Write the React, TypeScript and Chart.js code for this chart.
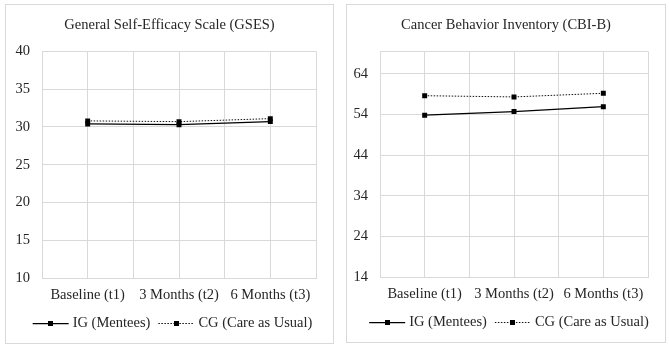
import React, { useEffect, useRef } from "react";
import { Chart, registerables } from "chart.js";

Chart.register(...registerables);

// Measurement occasions and group names shared by both panels
const timepoints = ["Baseline (t1)", "3 Months (t2)", "6 Months (t3)"];
const groupNames = ["IG (Mentees)", "CG (Care as Usual)"];

// General Self-Efficacy Scale
const gsesTitle = "General Self-Efficacy Scale (GSES)";
const gsesIG = [30.4, 30.3, 30.7];
const gsesCG = [30.8, 30.7, 31.1];
const gsesTicks = [10, 15, 20, 25, 30, 35, 40];
const gsesMin = 10;
const gsesMax = 40;

// Cancer Behavior Inventory
const cbiTitle = "Cancer Behavior Inventory (CBI-B)";
const cbiIG = [53.8, 54.7, 55.9];
const cbiCG = [58.6, 58.3, 59.2];
const cbiTicks = [14, 24, 34, 44, 54, 64];
const cbiMin = 14;
const cbiMax = 69.5;

const FONT = '"Liberation Serif", "Times New Roman", serif';
const FONT_SIZE = 14.5;
const TEXT = "#262626";
const GRID = "#d9d9d9";
const RIGHT_GAP = 17;

// Draws the legend below the x axis: a short line sample with a square marker, then the label
const lineLegend = {
  id: "lineLegend",
  afterDraw(chart: any, _args: any, opts: any) {
    const ctx = chart.ctx as CanvasRenderingContext2D;
    ctx.save();
    ctx.font = `${FONT_SIZE}px ${FONT}`;
    const sample = 36;
    const textGap = 4;
    const itemGap = 8;
    const items = chart.data.datasets.map((ds: any) => ({
      label: ds.label as string,
      width: ctx.measureText(ds.label).width,
      dash: ds.borderDash || [],
      lineWidth: ds.borderWidth,
      color: ds.borderColor,
    }));
    const total =
      items.reduce((s: number, it: any) => s + sample + textGap + it.width, 0) +
      itemGap * (items.length - 1);
    let x = chart.width / 2 + (opts.shift || 0) - total / 2;
    const y = Math.round(chart.chartArea.bottom + opts.offset) + 0.5;
    items.forEach((it: any) => {
      ctx.strokeStyle = it.color;
      ctx.lineWidth = it.lineWidth;
      ctx.setLineDash(it.dash);
      ctx.beginPath();
      ctx.moveTo(x, y);
      ctx.lineTo(x + sample, y);
      ctx.stroke();
      ctx.setLineDash([]);
      ctx.fillStyle = "#000";
      ctx.fillRect(Math.round(x + sample / 2 - 2.5), Math.round(y - 3), 5, 5);
      ctx.fillStyle = TEXT;
      ctx.textBaseline = "middle";
      ctx.textAlign = "left";
      ctx.fillText(it.label, x + sample + textGap, y);
      x += sample + textGap + it.width + itemGap;
    });
    ctx.restore();
  },
};

function buildConfig(
  title: string,
  ig: number[],
  cg: number[],
  yTicks: number[],
  yMin: number,
  yMax: number,
  plotLeft: number
): any {
  const n = timepoints.length;
  // vertical grid lines at every category centre and every category boundary
  const xGrid: number[] = [];
  for (let k = 0; k <= 2 * n; k++) xGrid.push(k / 2 - 0.5);
  const yGrid = yTicks.includes(yMax) ? yTicks : [...yTicks, yMax];
  const font = { family: FONT, size: FONT_SIZE };

  const point = {
    pointStyle: "rect",
    pointRadius: 3.5,
    pointBorderWidth: 0,
    pointBackgroundColor: "#000",
    pointBorderColor: "#000",
  };

  return {
    type: "line",
    data: {
      datasets: [
        {
          label: groupNames[0],
          data: ig.map((v, i) => ({ x: i, y: v })),
          borderColor: "#000",
          borderWidth: 1.25,
          ...point,
        },
        {
          label: groupNames[1],
          data: cg.map((v, i) => ({ x: i, y: v })),
          borderColor: "#111",
          borderWidth: 1,
          borderDash: [1.5, 1.5],
          ...point,
        },
      ],
    },
    plugins: [lineLegend],
    options: {
      animation: false,
      responsive: false,
      events: [],
      layout: { padding: 0 },
      plugins: {
        legend: { display: false },
        tooltip: { enabled: false },
        title: {
          display: true,
          text: title,
          color: TEXT,
          font: { ...font, weight: "normal" },
          padding: { top: 11, bottom: 18 },
        },
        lineLegend: { offset: 45, shift: 3 },
      },
      scales: {
        x: {
          type: "linear",
          min: -0.5,
          max: n - 0.5,
          afterBuildTicks: (s: any) => {
            s.ticks = xGrid.map((v) => ({ value: v }));
          },
          afterFit: (s: any) => {
            s.height = 65;
          },
          ticks: {
            autoSkip: false,
            maxRotation: 0,
            minRotation: 0,
            padding: 8,
            color: TEXT,
            font,
            callback: (v: number) => (Number.isInteger(v) ? timepoints[v] : ""),
          },
          grid: { color: GRID, lineWidth: 1, drawTicks: false },
          border: { color: GRID },
        },
        y: {
          type: "linear",
          position: "left",
          min: yMin,
          max: yMax,
          afterBuildTicks: (s: any) => {
            s.ticks = yGrid.map((v) => ({ value: v }));
          },
          afterFit: (s: any) => {
            s.width = plotLeft;
          },
          ticks: {
            padding: 12,
            color: TEXT,
            font,
            callback: (v: number) => (yTicks.includes(v) ? String(v) : ""),
          },
          grid: { color: GRID, lineWidth: 1, drawTicks: false },
          border: { color: GRID },
        },
        // empty spacer on the right so the title stays centred on the panel
        spacer: {
          type: "linear",
          position: "right",
          afterFit: (s: any) => {
            s.width = RIGHT_GAP;
          },
          ticks: { display: false },
          grid: { display: false },
          border: { display: false },
        },
      },
    },
  };
}

function Panel(props: {
  left: number;
  top: number;
  width: number;
  height: number;
  config: () => any;
}) {
  const ref = useRef<HTMLCanvasElement>(null);
  useEffect(() => {
    if (!ref.current) return;
    const chart = new Chart(ref.current, props.config());
    return () => chart.destroy();
  }, []);
  return (
    <div
      style={{
        position: "absolute",
        left: props.left,
        top: props.top,
        width: props.width,
        height: props.height,
        boxSizing: "border-box",
        border: `1px solid ${GRID}`,
        background: "#fff",
      }}
    >
      <canvas
        ref={ref}
        width={props.width - 2}
        height={props.height - 2}
        style={{ display: "block" }}
      />
    </div>
  );
}

export default function App() {
  return (
    <div
      style={{
        position: "fixed",
        left: 0,
        top: 0,
        width: 669,
        height: 347,
        background: "#fff",
        overflow: "hidden",
      }}
    >
      <Panel
        left={5}
        top={4}
        width={329}
        height={340}
        config={() =>
          buildConfig(gsesTitle, gsesIG, gsesCG, gsesTicks, gsesMin, gsesMax, 36)
        }
      />
      <Panel
        left={346}
        top={4}
        width={320}
        height={339}
        config={() =>
          buildConfig(cbiTitle, cbiIG, cbiCG, cbiTicks, cbiMin, cbiMax, 33)
        }
      />
    </div>
  );
}
